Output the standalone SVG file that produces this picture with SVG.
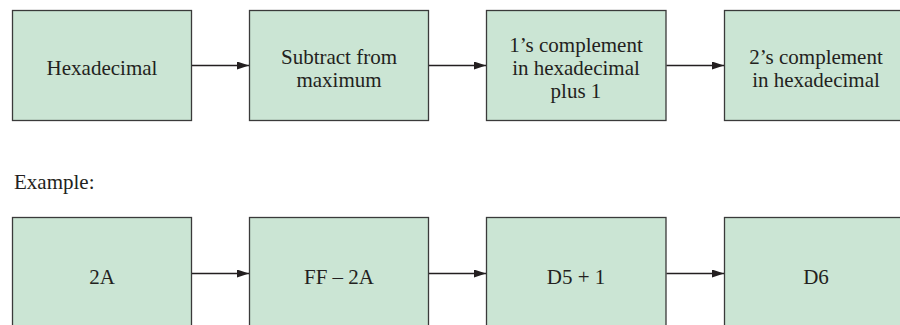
<svg xmlns="http://www.w3.org/2000/svg" width="900" height="325" viewBox="0 0 900 325">
<defs>
<style>
.box{fill:#cbe5d4;stroke:#3a3a3a;stroke-width:1.3}
.t{font-family:"Liberation Serif","Times New Roman",serif;font-size:21px;fill:#231f20;text-anchor:middle}
.lbl{font-family:"Liberation Serif","Times New Roman",serif;font-size:21px;fill:#231f20}
.c{stroke:#231f20;stroke-width:1.3;fill:none;marker-end:url(#ah)}
</style>
<marker id="ah" markerWidth="12" markerHeight="8" refX="12" refY="4" orient="auto" markerUnits="userSpaceOnUse">
<path d="M0,0 L12,4 L0,8 Z" fill="#231f20"/>
</marker>
</defs>
<rect width="900" height="325" fill="#ffffff"/>
<g id="n1"><rect class="box" x="12.5" y="10.5" width="179" height="110"/><text class="t" x="102" y="75">Hexadecimal</text></g>
<g id="n2"><rect class="box" x="249.5" y="10.5" width="179" height="110"/><text class="t" x="339" y="63.5">Subtract from</text><text class="t" x="339" y="86.5">maximum</text></g>
<g id="n3"><rect class="box" x="486.5" y="10.5" width="179.5" height="110"/><text class="t" x="576" y="51.5">1’s complement</text><text class="t" x="576" y="74.5">in hexadecimal</text><text class="t" x="576" y="98">plus 1</text></g>
<g id="n4"><rect class="box" x="724.5" y="10.5" width="200" height="110"/><text class="t" x="816" y="63.5">2’s complement</text><text class="t" x="816" y="86.5">in hexadecimal</text></g>
<text class="lbl" x="14" y="188.5">Example:</text>
<g id="n5"><rect class="box" x="12.5" y="217.5" width="179" height="120"/><text class="t" x="102" y="283.5">2A</text></g>
<g id="n6"><rect class="box" x="249.5" y="217.5" width="179" height="120"/><text class="t" x="339" y="283.5">FF – 2A</text></g>
<g id="n7"><rect class="box" x="486.5" y="217.5" width="179.5" height="120"/><text class="t" x="576" y="283.5">D5 + 1</text></g>
<g id="n8"><rect class="box" x="724.5" y="217.5" width="200" height="120"/><text class="t" x="816" y="283.5">D6</text></g>
<g id="connectors">
<line class="c" x1="192" y1="65.5" x2="249" y2="65.5"/>
<line class="c" x1="429" y1="65.5" x2="486" y2="65.5"/>
<line class="c" x1="666.5" y1="65.5" x2="724" y2="65.5"/>
<line class="c" x1="192" y1="273.5" x2="249" y2="273.5"/>
<line class="c" x1="429" y1="273.5" x2="486" y2="273.5"/>
<line class="c" x1="666.5" y1="273.5" x2="724" y2="273.5"/>
</g>
</svg>
